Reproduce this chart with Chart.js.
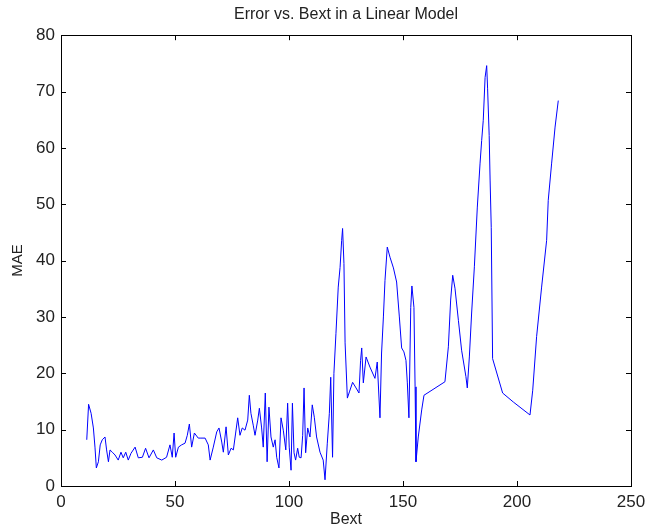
<!DOCTYPE html>
<html>
<head>
<meta charset="utf-8">
<script src="https://cdn.jsdelivr.net/npm/chart.js@4.4.1/dist/chart.umd.min.js"></script>
<style>
  html, body { margin: 0; padding: 0; background: #fff; }
  #wrap { width: 647px; height: 529px; }
</style>
</head>
<body>
<div id="wrap"><canvas id="errChart" width="647" height="529"></canvas></div>
<script>
// values
const bext = [
  11.3, 12.1, 13.2, 14.2, 14.9, 15.5, 16.4, 17.2, 18.1, 19.3, 20.0, 20.8, 21.5, 22.5, 23.7, 25.1,
  26.3, 27.3, 28.4, 29.5, 30.7, 32.5, 33.9, 35.7, 37.1, 38.6, 40.5, 42.0, 44.2, 46.3, 47.8, 48.8,
  49.6, 50.3, 51.5, 52.9, 54.4, 55.4, 56.3, 57.3, 58.5, 60.2, 61.0, 63.2, 64.6, 65.4, 66.8, 68.3,
  69.3, 70.5, 71.2, 72.4, 73.4, 74.6, 75.6, 76.6, 77.5, 78.5, 79.5, 80.7, 81.9, 82.6, 83.3, 84.3,
  85.1, 86.3, 87.0, 88.0, 88.7, 89.6, 90.4, 91.2, 92.1, 93.1, 93.9, 94.6, 95.6, 96.5, 97.5, 98.6,
  99.4, 100.1, 100.9, 101.5, 102.2, 102.9, 103.8, 104.5, 105.3, 106.0, 106.6, 107.3, 108.2, 109.2,
  110.2, 111.1, 112.1, 113.6, 115.0, 115.8, 116.8, 117.7, 118.3, 119.1, 119.7, 120.6, 121.6, 122.4,
  123.1, 123.5, 124.1, 124.6, 125.6, 126.5, 127.9, 129.4, 130.7, 131.4, 131.9, 132.6, 133.8, 135.5,
  137.7, 138.7, 139.9, 140.6, 141.4, 142.1, 143.1, 144.3, 145.8, 147.2, 148.4, 149.4, 150.4, 151.3,
  151.9, 152.6, 153.4, 153.9, 154.8, 155.3, 155.7, 156.7, 158.2, 159.2, 168.4, 169.9, 170.9, 171.8,
  172.8, 174.3, 175.7, 177.6, 178.2, 179.1, 180.1, 181.3, 182.6, 183.8, 184.5, 185.2, 186.0, 186.7,
  187.1, 187.8, 188.2, 188.7, 189.3, 193.7, 198.4, 205.7, 206.9, 208.6, 210.8, 213.0, 213.7,
  215.2, 216.7, 218.1
];
const mae = [
  8.2, 14.5, 12.9, 10.3, 6.9, 3.2, 4.3, 7.3, 8.2, 8.7, 6.4, 4.3, 6.4, 6.0, 5.5, 4.6,
  6.0, 5.0, 6.0, 4.6, 5.8, 6.9, 5.0, 5.1, 6.7, 5.0, 6.4, 5.0, 4.6, 5.1, 7.3, 5.1,
  9.4, 5.1, 6.9, 7.3, 7.6, 9.0, 11.0, 6.9, 9.4, 8.5, 8.5, 8.5, 7.3, 4.6, 6.9, 9.6,
  10.3, 7.8, 6.0, 10.5, 5.5, 6.7, 6.4, 9.4, 12.1, 9.0, 10.3, 9.9, 11.7, 16.1, 12.9, 10.8,
  9.0, 11.7, 13.8, 10.3, 6.9, 16.5, 4.3, 14.0, 8.7, 6.9, 8.2, 5.1, 3.2, 12.1, 9.9, 6.4,
  14.7, 6.9, 2.8, 14.7, 5.9, 4.6, 6.7, 5.1, 5.0, 9.0, 17.4, 5.9, 10.3, 8.7,
  14.4, 12.2, 8.7, 6.0, 4.6, 1.1, 7.6, 12.9, 19.3, 5.1, 20.0, 27.1, 35.3, 38.8,
  43.6, 45.7, 39.5, 25.4, 15.6, 16.7, 18.4, 17.4, 16.5, 22.3, 24.5, 18.3, 22.9, 21.1,
  19.1, 22.0, 12.1, 23.6, 30.0, 36.5, 42.4, 40.6, 38.7, 36.2, 30.0, 24.5, 23.8, 22.3,
  18.3, 12.1, 31.7, 35.5, 31.7, 17.6, 4.3, 8.7, 13.5, 16.1, 18.5, 24.7, 33.0, 37.4,
  35.1, 29.4, 24.1, 19.4, 17.4, 22.9, 30.7, 38.9, 49.5, 57.3, 61.3, 64.9, 72.5, 74.6,
  70.6, 62.2, 54.3, 45.9, 22.6, 16.5, 14.9, 12.6, 17.0, 26.5, 35.3, 43.6, 50.7,
  57.3, 63.7, 68.4
];
const xTicks = [0, 50, 100, 150, 200, 250];
const yTicks = [0, 10, 20, 30, 40, 50, 60, 70, 80];

const points = bext.map((b, i) => ({ x: b, y: mae[i] }));

// matlab style box with inward tick marks
const axesBox = {
  id: 'axesBox',
  afterDraw(chart) {
    const { ctx, chartArea: a, scales } = chart;
    ctx.save();
    ctx.strokeStyle = '#000';
    ctx.lineWidth = 1;
    ctx.strokeRect(Math.round(a.left) + 0.5, Math.round(a.top) + 0.5,
      Math.round(a.right - a.left), Math.round(a.bottom - a.top));
    const len = 5;
    ctx.beginPath();
    xTicks.forEach(v => {
      const px = Math.round(scales.x.getPixelForValue(v)) + 0.5;
      ctx.moveTo(px, a.bottom); ctx.lineTo(px, a.bottom - len);
      ctx.moveTo(px, a.top); ctx.lineTo(px, a.top + len);
    });
    yTicks.forEach(v => {
      const py = Math.round(scales.y.getPixelForValue(v)) + 0.5;
      ctx.moveTo(a.left, py); ctx.lineTo(a.left + len, py);
      ctx.moveTo(a.right, py); ctx.lineTo(a.right - len, py);
    });
    ctx.stroke();
    ctx.restore();
  }
};

const font = 'Liberation Sans, Arial, sans-serif';

new Chart(document.getElementById('errChart').getContext('2d'), {
  type: 'line',
  data: {
    datasets: [{
      label: 'MAE',
      data: points,
      borderColor: '#0000ff',
      borderWidth: 1,
      pointRadius: 0,
      tension: 0,
      fill: false
    }]
  },
  options: {
    responsive: false,
    animation: false,
    layout: { padding: { left: 0, right: 16, top: 0, bottom: 0 } },
    plugins: {
      legend: { display: false },
      tooltip: { enabled: false },
      title: {
        display: true,
        text: 'Error vs. Bext in a Linear Model',
        fullSize: false,
        color: '#222',
        font: { family: font, size: 16, weight: 'normal' },
        padding: { top: 5, bottom: 11 }
      }
    },
    scales: {
      x: {
        type: 'linear',
        min: 0,
        max: 250,
        afterBuildTicks: s => { s.ticks = xTicks.map(v => ({ value: v })); },
        afterFit: s => { s.height = 43; s.paddingLeft = 0; s.paddingRight = 0; },
        grid: { display: false, drawTicks: false },
        border: { display: false },
        ticks: { color: '#222', padding: 6, maxRotation: 0, font: { family: font, size: 17 } },
        title: { display: true, text: 'Bext', color: '#222', padding: 0, font: { family: font, size: 16 } }
      },
      y: {
        min: 0,
        max: 80,
        afterBuildTicks: s => { s.ticks = yTicks.map(v => ({ value: v })); },
        afterFit: s => { s.width = 61; },
        grid: { display: false, drawTicks: false },
        border: { display: false },
        ticks: { color: '#222', padding: 6, font: { family: font, size: 17 } },
        title: { display: true, text: 'MAE', color: '#222', padding: { top: 9, bottom: 0 }, font: { family: font, size: 15 } }
      }
    }
  },
  plugins: [axesBox]
});
</script>
</body>
</html>
